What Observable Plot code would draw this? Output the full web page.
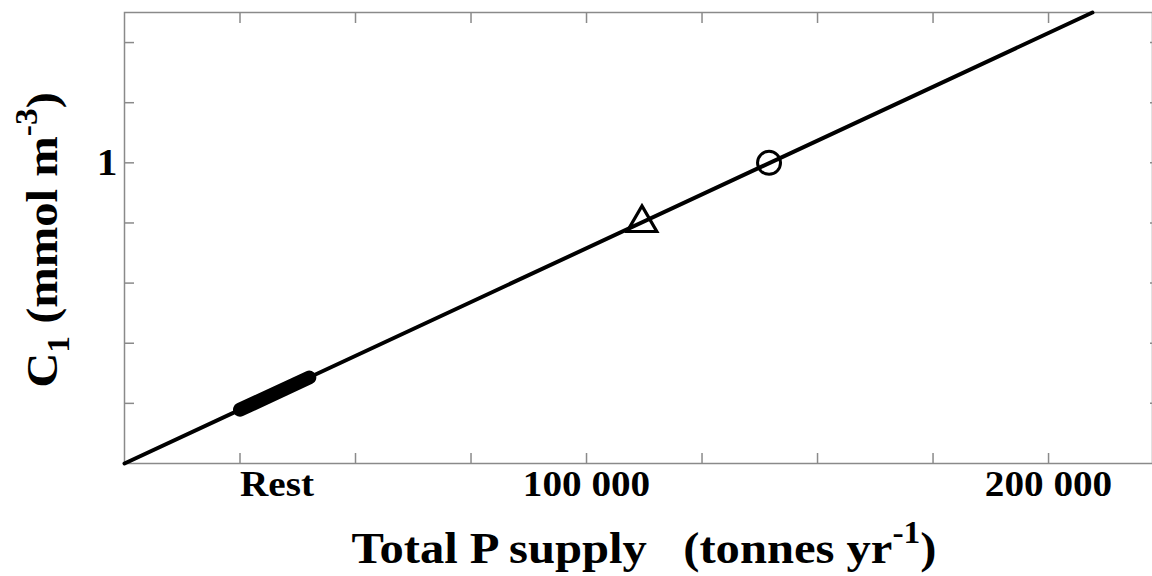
<!DOCTYPE html>
<html>
<head>
<meta charset="utf-8">
<script src="https://cdn.jsdelivr.net/npm/d3@7"></script>
<script src="https://cdn.jsdelivr.net/npm/@observablehq/plot@0.6"></script>
<style>
  html, body { margin: 0; padding: 0; background: #fff; overflow: hidden; }
  svg { display: block; }
</style>
</head>
<body>
<div id="chart"></div>
<script>
// ---- data ----
const lineX = [0, 209500];
const lineY = [0, 1.5];
const restX = [25000, 40000];
const restY = [0.179, 0.286];
const circleX = [139500];
const circleY = [1.0];
const triangleX = [112000];
const triangleY = [0.8];
const xTicks = [25000, 50000, 75000, 100000, 125000, 150000, 175000, 200000];
const xStartLabelValues = [25000];
const xStartLabels = ["Rest"];
const xTickLabelValues = [100000, 200000];
const xTickLabels = ["100 000", "200 000"];
const yTicks = [0.2, 0.4, 0.6, 0.8, 1.0, 1.2, 1.4];
const yTickLabelValues = [1];
const yTickLabels = ["1"];

const font = "'Liberation Serif', 'Times New Roman', serif";
const frameColor = "#8a8a8a";

const line = lineX.map((x, i) => ({x, y: lineY[i]}));
const rest = restX.map((x, i) => ({x, y: restY[i]}));

const chart = Plot.plot({
  width: 1152,
  height: 576,
  marginLeft: 124,
  marginRight: 0,
  marginTop: 12,
  marginBottom: 113,
  style: {fontFamily: font, background: "#fff"},
  x: {domain: [0, 222500]},
  y: {domain: [0, 1.5]},
  marks: [
    Plot.frame({stroke: frameColor, strokeWidth: 1.5}),
    Plot.axisX(xTicks, {anchor: "bottom", tickSize: -10, stroke: frameColor, strokeWidth: 1.5, tickFormat: () => "", label: null}),
    Plot.axisX(xTicks, {anchor: "top", tickSize: -10, stroke: frameColor, strokeWidth: 1.5, tickFormat: () => "", label: null}),
    Plot.axisY(yTicks, {anchor: "left", tickSize: -10, stroke: frameColor, strokeWidth: 1.5, tickFormat: () => "", label: null}),
    Plot.axisY(yTicks, {anchor: "right", tickSize: -3, stroke: frameColor, strokeWidth: 1.5, tickFormat: () => "", label: null}),
    Plot.axisX(xStartLabelValues, {anchor: "bottom", tickSize: 0, tickPadding: 8, fontSize: 35, fontWeight: "bold", fill: "#000",
      textAnchor: "start", tickFormat: (d) => xStartLabels[xStartLabelValues.indexOf(d)], label: null}),
    Plot.axisX(xTickLabelValues, {anchor: "bottom", tickSize: 0, tickPadding: 8, fontSize: 35, fontWeight: "bold", fill: "#000",
      tickFormat: (d) => xTickLabels[xTickLabelValues.indexOf(d)], label: null}),
    Plot.axisY(yTickLabelValues, {anchor: "left", tickSize: 0, tickPadding: 7, fontSize: 37, fontWeight: "bold", fill: "#000",
      tickFormat: (d) => yTickLabels[yTickLabelValues.indexOf(d)], label: null}),
    Plot.line(line, {x: "x", y: "y", stroke: "#000", strokeWidth: 4}),
    Plot.line(rest, {x: "x", y: "y", stroke: "#000", strokeWidth: 14, strokeLinecap: "round"}),
    Plot.dot(circleX.map((x, i) => ({x, y: circleY[i]})), {x: "x", y: "y", r: 11.5, stroke: "#000", strokeWidth: 3, fill: "none"}),
    Plot.dot(triangleX.map((x, i) => ({x, y: triangleY[i]})), {x: "x", y: "y", r: 11, symbol: "triangle", stroke: "#000", strokeWidth: 3.2, fill: "none"})
  ]
});

document.getElementById("chart").appendChild(chart);

const svg = d3.select(chart);
// widen tick labels slightly, as in the reference
svg.selectAll("g[aria-label='x-axis tick label'] text, g[aria-label='y-axis tick label'] text").each(function () {
  const t = this.getAttribute("transform") || "";
  this.setAttribute("transform", t + " scale(1.12,1)");
});

// axis titles with sub/superscripts
const xt = svg.append("text")
  .attr("transform", "translate(644,563) scale(1.08,1)")
  .attr("text-anchor", "middle")
  .attr("font-family", font).attr("font-weight", "bold").attr("font-size", 45)
  .attr("fill", "#000")
  .attr("xml:space", "preserve");
xt.append("tspan").text("Total P supply\u00a0\u00a0\u00a0(tonnes yr");
xt.append("tspan").attr("font-size", 31).attr("dy", -20).text("-1");
xt.append("tspan").attr("dy", 20).text(")");

const yt = svg.append("text")
  .attr("transform", "translate(57,240) rotate(-90) scale(1.08,1)")
  .attr("text-anchor", "middle")
  .attr("font-family", font).attr("font-weight", "bold").attr("font-size", 45)
  .attr("fill", "#000");
yt.append("tspan").text("C");
yt.append("tspan").attr("font-size", 31).attr("dy", 12).text("1");
yt.append("tspan").attr("dy", -12).text("\u00a0(mmol m");
yt.append("tspan").attr("font-size", 31).attr("dy", -20).text("-3");
yt.append("tspan").attr("dy", 20).text(")");
</script>
</body>
</html>
